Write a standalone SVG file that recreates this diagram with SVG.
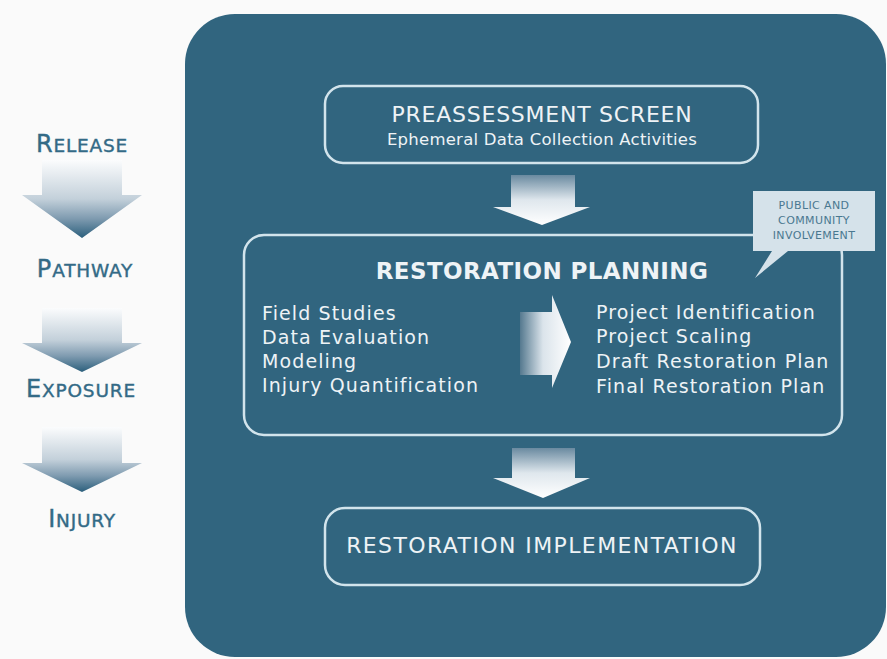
<svg xmlns="http://www.w3.org/2000/svg" width="887" height="659" viewBox="0 0 887 659">
  <defs>
    <linearGradient id="gLeft" x1="0" y1="0" x2="0" y2="1">
      <stop offset="0" stop-color="#fbfcfd"/>
      <stop offset="0.5" stop-color="#c3d0da"/>
      <stop offset="0.75" stop-color="#7f9bb0"/>
      <stop offset="1" stop-color="#2b5f7c"/>
    </linearGradient>
    <linearGradient id="gDown" x1="0" y1="0" x2="0" y2="1">
      <stop offset="0" stop-color="#6a8aa0"/>
      <stop offset="0.5" stop-color="#dfe7ed"/>
      <stop offset="1" stop-color="#ffffff"/>
    </linearGradient>
    <linearGradient id="gRight" x1="0" y1="0" x2="1" y2="0">
      <stop offset="0" stop-color="#55798f"/>
      <stop offset="0.45" stop-color="#dbe4eb"/>
      <stop offset="1" stop-color="#ffffff"/>
    </linearGradient>
    <style>
      .lbl { font-family: "DejaVu Sans", "Liberation Sans", sans-serif; fill: #336a86; stroke: #336a86; stroke-width: 0.4; text-anchor: middle; font-size: 18.5px; letter-spacing: 0.8px; }
      .big { font-size: 24px; }
      .box { fill: none; stroke: #d2e4ec; stroke-width: 2.5; }
      .wt { font-family: "DejaVu Sans", "Liberation Sans", sans-serif; fill: #eef3f6; }
      .item { font-size: 19px; letter-spacing: 1.1px; }
      .call { font-family: "DejaVu Sans", "Liberation Sans", sans-serif; fill: #4a7890; font-size: 11px; letter-spacing: 0.4px; text-anchor: middle; }
    </style>
  </defs>
  <rect width="887" height="659" fill="#fafafa"/>

  <g id="panel">
    <rect x="185" y="14" width="701" height="643" rx="50" fill="#31657f"/>
  </g>

  <g id="connectors">
    <path d="M42,160 H122 V195 H142 L82,238 L22,195 H42 Z" fill="url(#gLeft)"/>
    <path d="M42,308 H122 V343 H142 L82,372 L22,343 H42 Z" fill="url(#gLeft)"/>
    <path d="M42,427 H122 V463 H142 L82,492 L22,463 H42 Z" fill="url(#gLeft)"/>
    <path d="M511,175 H575 V207 H590 L542,225 L493,207 H511 Z" fill="url(#gDown)"/>
    <path d="M512,448 H575 V478 H590 L543,498 L493,478 H512 Z" fill="url(#gDown)"/>
    <path d="M520,312 H552 V295 L571,342 L552,388 V375 H520 Z" fill="url(#gRight)"/>
  </g>

  <g id="release">
    <text class="lbl" x="82" y="152"><tspan class="big">R</tspan>ELEASE</text>
  </g>
  <g id="pathway">
    <text class="lbl" x="85" y="277"><tspan class="big">P</tspan>ATHWAY</text>
  </g>
  <g id="exposure">
    <text class="lbl" x="81" y="397"><tspan class="big">E</tspan>XPOSURE</text>
  </g>
  <g id="injury">
    <text class="lbl" x="82" y="527"><tspan class="big">I</tspan>NJURY</text>
  </g>

  <g id="preassessment">
    <rect class="box" x="325" y="86" width="433" height="77" rx="18"/>
    <text class="wt" x="542" y="122" font-size="22" text-anchor="middle" letter-spacing="0.75">PREASSESSMENT SCREEN</text>
    <text class="wt" x="542" y="145" font-size="16.5" text-anchor="middle" letter-spacing="0.25">Ephemeral Data Collection Activities</text>
  </g>

  <g id="planning">
    <rect class="box" x="244" y="235" width="598" height="200" rx="20"/>
    <text class="wt" x="542" y="279" font-size="23" font-weight="bold" text-anchor="middle" letter-spacing="0.4">RESTORATION PLANNING</text>
    <text class="wt item" x="262" y="320">Field Studies</text>
    <text class="wt item" x="262" y="344">Data Evaluation</text>
    <text class="wt item" x="262" y="368">Modeling</text>
    <text class="wt item" x="262" y="392">Injury Quantification</text>
    <text class="wt item" x="596" y="319">Project Identification</text>
    <text class="wt item" x="596" y="343">Project Scaling</text>
    <text class="wt item" x="596" y="368">Draft Restoration Plan</text>
    <text class="wt item" x="596" y="393">Final Restoration Plan</text>
  </g>

  <g id="public-involvement">
    <path d="M753,191 H875 V251 H788 L755,278 L772,251 H753 Z" fill="#d5e2ea"/>
    <text class="call" x="814" y="209">PUBLIC AND</text>
    <text class="call" x="814" y="224">COMMUNITY</text>
    <text class="call" x="814" y="239">INVOLVEMENT</text>
  </g>

  <g id="implementation">
    <rect class="box" x="325" y="508" width="435" height="77" rx="20"/>
    <text class="wt" x="542" y="553" font-size="22" text-anchor="middle" letter-spacing="1.4">RESTORATION IMPLEMENTATION</text>
  </g>
</svg>
